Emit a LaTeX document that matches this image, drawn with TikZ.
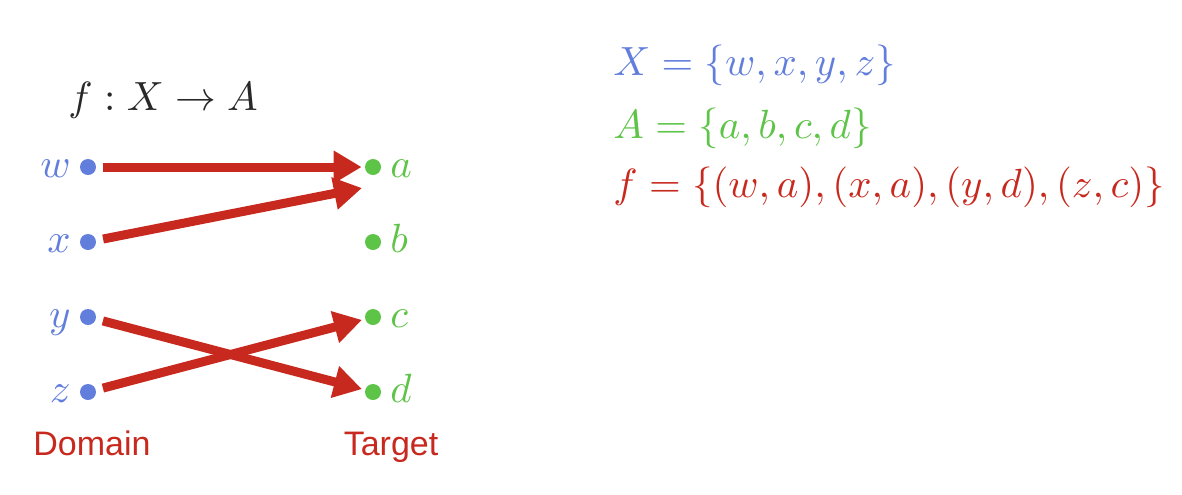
\documentclass[tikz,border=0pt]{standalone}
\usepackage{fontspec}
\usepackage{graphicx}
\setsansfont{Liberation Sans}
\usetikzlibrary{positioning,arrows.meta,calc}

\definecolor{domblue}{RGB}{98,126,220}
\definecolor{tgtgreen}{RGB}{94,196,72}
\definecolor{mapred}{RGB}{200,41,30}
\definecolor{ink}{RGB}{40,40,40}

% math set at its 10pt design size, then enlarged
\newcommand{\mth}[1]{\scalebox{2.04}{$#1$}}

\begin{document}
\begin{tikzpicture}[
    x=0.5pt, y=-0.5pt,
    pt/.style={circle, inner sep=0pt, minimum size=8pt},
    dom/.style={pt, fill=domblue},
    tgt/.style={pt, fill=tgtgreen},
    domlbl/.style={anchor=base east, text=domblue, inner sep=0pt},
    tgtlbl/.style={anchor=base west, text=tgtgreen, inner sep=0pt},
    side/.style={font=\sffamily\fontsize{17}{20}\selectfont, text=mapred,
                 anchor=base, inner sep=0pt},
    map/.style={-{Triangle[length=14pt,width=15.5pt]}, mapred, line width=4.5pt,
                shorten <=3.5pt, shorten >=1.5pt},
  ]
  \useasboundingbox (0,0) rectangle (1182,494);

  % --- Domain and target points -------------------------------------------
  \foreach \n/\y in {w/167, x/242, y/317, z/392} {
    \node[dom] (\n) at (88,\y) {};
    \node[domlbl] (\n-lbl) at (71,\y+10) {\mth{\n}};
  }
  \foreach \n/\y in {a/167, b/242, c/317, d/392} {
    \node[tgt] (\n) at (373,\y) {};
    \node[tgtlbl] (\n-lbl) at (390,\y+10) {\mth{\n}};
  }

  \node[side] (domain) at (92,455) {Domain};
  \node[side] (target) at (391,455) {Target};

  \node[anchor=base west, text=ink, inner sep=0pt] (sig) at (68,110) {\mth{f : X \to A}};

  % --- Mapping ------------------------------------------------------------
  \coordinate (a-low) at (362,188);
  \draw[map] (w) -- (a);
  \draw[map, shorten >=0pt] (x) -- (a-low);
  \foreach \s/\t in {y/d, z/c}
    \draw[map] (\s) -- (\t);

  % --- Set definitions ----------------------------------------------------
  \node[anchor=base west, text=domblue, inner sep=0pt] (setX) at (613,75)
    {\mth{X = \{w, x, y, z\}}};
  \node[anchor=base west, text=tgtgreen, inner sep=0pt] (setA) at (613,138)
    {\mth{A = \{a, b, c, d\}}};
  \node[anchor=base west, text=mapred, inner sep=0pt] (setf) at (613,197)
    {\mth{f = \{(w, a), (x, a), (y, d), (z, c)\}}};

\end{tikzpicture}
\end{document}
